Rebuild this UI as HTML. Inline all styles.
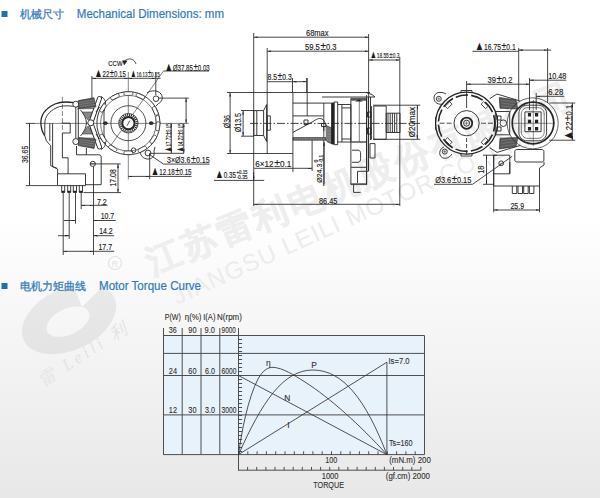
<!DOCTYPE html>
<html><head><meta charset="utf-8">
<style>
html,body{margin:0;padding:0;width:600px;height:498px;overflow:hidden;}
body{background:linear-gradient(to bottom,#ffffff 0px,#ffffff 215px,#e8e8e8 498px);font-family:"Liberation Sans",sans-serif;}
svg{position:absolute;left:0;top:0;}
</style></head><body>
<svg width="600" height="498" viewBox="0 0 600 498" font-family="Liberation Sans, sans-serif">
<!-- WATERMARK -->
<g id="wm">
<g opacity="0.06" fill="#000">
<path fill-rule="evenodd" transform="rotate(-25 69 319)" d="M19 319A50 31 0 1 0 119 319A50 31 0 1 0 19 319Z M44 321A23 13 0 1 0 90 321A23 13 0 1 0 44 321Z"/>
</g>
<path d="M73 284L82 307L105 284Z" fill="#f9f9f9"/>
<circle cx="115" cy="263" r="6.5" fill="none" stroke="#e2e2e2" stroke-width="1.1"/>
<text x="111.8" y="266.6" font-size="9" fill="#e2e2e2">R</text>
<text transform="translate(43 387) rotate(-33)" font-size="17" font-style="italic" font-family="Liberation Serif, serif" fill="#e4e4e4" letter-spacing="3.5">雷 Leili  利</text>
<text transform="translate(152.4 274.6) rotate(-22)" font-size="35" font-weight="bold" fill="#eeeeee" stroke="#eeeeee" stroke-width="0.6" letter-spacing="3.1">江苏雷利电机股份有限公司</text>
<text transform="translate(177 305) rotate(-24.4)" font-size="24" fill="#ececec" letter-spacing="1.2">JIANGSU LEILI MOTOR CO.,LTD</text>
</g>
<!-- HEADERS -->
<g id="hdr">
<rect x="1.5" y="11" width="6" height="6" fill="#1f6fb6"/>
<text x="20" y="18.2" font-size="11.2" fill="#3a7dbf" stroke="#3a7dbf" stroke-width="0.3" textLength="44" lengthAdjust="spacingAndGlyphs">机械尺寸</text>
<text x="76.8" y="17.8" font-size="12" fill="#3479be" stroke="#3479be" stroke-width="0.2" textLength="147.2" lengthAdjust="spacingAndGlyphs">Mechanical Dimensions: mm</text>
<rect x="1.5" y="283" width="6" height="6" fill="#1f6fb6"/>
<text x="20" y="290.2" font-size="11.2" fill="#3a7dbf" stroke="#3a7dbf" stroke-width="0.3" textLength="66" lengthAdjust="spacingAndGlyphs">电机力矩曲线</text>
<text x="99" y="289.5" font-size="12" fill="#3479be" stroke="#3479be" stroke-width="0.2" textLength="102" lengthAdjust="spacingAndGlyphs">Motor Torque Curve</text>
</g>
<!-- LEFT VIEW -->
<defs>
<marker id="ar" viewBox="0 0 10 4" refX="10" refY="2" markerWidth="4" markerHeight="1.6" orient="auto-start-reverse" markerUnits="userSpaceOnUse"><path d="M0 0L10 2L0 4z" fill="#222"/></marker>
</defs>
<g id="left" fill="none" stroke="#262626" stroke-width="0.9">
<!-- center lines -->
<g stroke-width="0.6" stroke="#333">
<path d="M35 123.4H188.8"/>
<path d="M128.3 72V179.5"/>
<path d="M163.5 71L109 148"/>
<path d="M62.4 97V132" stroke-dasharray="5 2"/>
</g>
<!-- housing arc -->
<path d="M74 102.6C66 101.5 60 101.8 55 104C45 108.5 40.5 116 40.9 124C41.2 129 42.5 132.5 44.8 135.8" stroke-width="1.3"/>
<path d="M73.5 106.3C66 105.3 60 105.8 56 108C49 111.5 44.8 117 44.8 123.2V135"/>
<!-- outer stepped outline -->
<path d="M44.8 135.8L46.4 140.9L50.7 145.7V165.6L54.3 167.4L57.6 169V173.8"/>
<path d="M49.8 123.2V141M52.6 123.2V166.8L56.7 168"/>
<path d="M61.7 123.2H70.2V133H62.4V157.8H68.1V173.8"/>
<!-- connector base + pins -->
<path d="M57.5 173.8H85.5V185.6H57.5Z"/>
<path d="M86.4 154.8H99C100.3 154.8 101.2 155.7 101.2 157V184.7H85.5"/>
<path d="M76.5 146V154.8H86.4M86.4 148V154.8"/>
<circle cx="92.8" cy="163.9" r="2.6"/>
<path d="M90.8 163.9H94.8" stroke-width="0.5"/>
<path d="M61.7 185.6V192.5H64.7V185.6M67.7 185.6V192.5H70.7V185.6M73.3 185.6V192.5H76.5V185.6M79.3 185.6V192.5H82.5V185.6"/>
<path d="M61.7 191.5H64.7M67.7 191.5H70.7M73.3 191.5H76.5M79.3 191.5H82.5" stroke-width="1.6"/>
<!-- stator frame -->
<path d="M75.8 104.7H78.3V139.7H75.8Z"/>
<path d="M80.5 110C84 114 86 118 86.5 123C86 128 84 132 80.5 136M95 110C92 114 90 118 89.5 123C90 128 92 132 95 136"/>
<path d="M82 112L93.5 112L88 120ZM82 134L93.5 134L88 126Z" fill="#888" stroke-width="0.5"/>
<path d="M77.5 108.8L96 108.5M77.5 138L96 138.3" stroke-width="0.7"/>
<path d="M99.5 98.5L90.8 122.8L99.5 147" stroke-width="5" stroke-linecap="round" stroke-linejoin="round"/>
<path d="M99.5 98.5L90.8 122.8L99.5 147" stroke="#fff" stroke-width="3.2" stroke-linecap="round" stroke-linejoin="round"/>
<circle cx="90.8" cy="122.8" r="3" fill="#fff"/>
<path d="M101 96.5C104 98 106 101 105.5 104L104 108V138L105.5 142C106 145 104 148 101 149.5"/>
<path d="M96 112L99.5 107M96 134L99.5 139"/>
<circle cx="75.8" cy="104.2" r="3" fill="#fff"/>
<circle cx="75.8" cy="141.6" r="3" fill="#fff"/>
<!-- coils -->
<g stroke="#333" fill="#5c5c5c" stroke-width="0.7">
<path d="M78.3 100.6L94 97.8L96 106.8L79 108.5Z"/>
<path d="M78.3 145.6L94 148.4L96 139.4L79 137.7Z"/>
</g>
<path d="M79 102.6L94.5 100M79.3 104.6L95 102.2M79.6 106.6L95.5 104.4M79 143.6L94.5 146.2M79.3 141.6L95 144M79.6 139.6L95.5 141.8" stroke="#999" stroke-width="0.45"/>
<g fill="#444" stroke="none">
<rect x="100.5" y="107.7" width="4.2" height="3.5"/><rect x="100.5" y="135.8" width="4.2" height="3.5"/>
</g>
<!-- motor front -->
<path d="M128.4 91.7A31.5 31.5 0 1 1 128.39000000000001 91.7" stroke-width="0.9"/>
<circle cx="128.4" cy="123.2" r="27.8" stroke-width="0.6"/>
<g stroke-width="0.7"><rect x="-4.5" y="-1.8" width="9" height="3.6" rx="1.5" fill="#fff" transform="translate(115.0 96.8) rotate(-27.0)"/><rect x="-4.5" y="-1.8" width="9" height="3.6" rx="1.5" fill="#fff" transform="translate(140.4 96.2) rotate(24.0)"/><rect x="-4.5" y="-1.8" width="9" height="3.6" rx="1.5" fill="#fff" transform="translate(155.3 110.9) rotate(65.4)"/><rect x="-4.5" y="-1.8" width="9" height="3.6" rx="1.5" fill="#fff" transform="translate(157.8 120.1) rotate(84.0)"/><rect x="-4.5" y="-1.8" width="9" height="3.6" rx="1.5" fill="#fff" transform="translate(157.8 126.3) rotate(96.0)"/><rect x="-4.5" y="-1.8" width="9" height="3.6" rx="1.5" fill="#fff" transform="translate(153.2 139.3) rotate(123.0)"/><rect x="-4.5" y="-1.8" width="9" height="3.6" rx="1.5" fill="#fff" transform="translate(142.3 149.3) rotate(152.0)"/><rect x="-4.5" y="-1.8" width="9" height="3.6" rx="1.5" fill="#fff" transform="translate(112.7 148.3) rotate(212.0)"/><rect x="-4.5" y="-1.8" width="9" height="3.6" rx="1.5" fill="#fff" transform="translate(103.0 108.0) rotate(-59.0)"/><rect x="-4.5" y="-1.8" width="9" height="3.6" rx="1.5" fill="#fff" transform="translate(103.0 138.4) rotate(239.0)"/><rect x="-4.5" y="-1.8" width="9" height="3.6" rx="1.5" fill="#fff" transform="translate(128.4 152.8) rotate(180.0)"/><rect x="-4.5" y="-1.8" width="9" height="3.6" rx="1.5" fill="#fff" transform="translate(128.4 93.6) rotate(0.0)"/></g>
<circle cx="128.4" cy="123.2" r="17.5" stroke-width="0.8"/>
<circle cx="128.4" cy="123.2" r="9.8" stroke-width="0.7" fill="#fff"/>
<circle cx="128.4" cy="123.2" r="8.4" stroke-width="2.4" stroke-dasharray="1.1 0.9"/>
<circle cx="128.4" cy="123.2" r="6.2" stroke-width="2.1"/>
<path d="M127 125.8L129.8 120.6" stroke-width="0.8"/>
<ellipse cx="105.4" cy="123.2" rx="1.9" ry="1.4" fill="#333"/>
<ellipse cx="151.2" cy="123.2" rx="1.9" ry="1.4" fill="#333"/>
<!-- ears -->
<path d="M147 93C151 90 158 90 161 94C163.5 97.5 162 102 158.5 103.5L156 106"/>
<circle cx="156" cy="98.7" r="2.8"/>
<path d="M140 152C141 157 145 159.5 149 159C153 158.5 155 155 154 151L155 147"/>
<circle cx="148" cy="153" r="2.9"/>
<circle cx="133.6" cy="150.2" r="2.3"/>
<!-- dimension lines -->
<g stroke="#262626" stroke-width="0.85">
<path d="M91.9 76V98M155.8 72V95"/>
<path d="M91.9 78.3H128.3" marker-start="url(#ar)" marker-end="url(#ar)"/>
<path d="M128.3 78.3H155.8" marker-start="url(#ar)" marker-end="url(#ar)"/>
<path d="M155.8 78.3H160.5"/>
<path d="M163.5 71H209"/>
<path d="M158 98.1H188.8M150.8 153.3H184"/>
<path d="M186.1 98.1V123.4" marker-start="url(#ar)" marker-end="url(#ar)"/>
<path d="M171.3 123.4V153.3" marker-start="url(#ar)" marker-end="url(#ar)"/>
<path d="M183.8 123.4V153.3" marker-start="url(#ar)" marker-end="url(#ar)"/>
<path d="M149 154.2L163.5 164.1H209.6"/>
<path d="M128.3 176.4H149.7" marker-start="url(#ar)" marker-end="url(#ar)"/>
<path d="M149.7 176.4H191.5M149.7 153V179.2"/>
<path d="M25.8 123.4H35M25.8 185.6H57.5"/>
<path d="M29.5 123.4V185.6" marker-start="url(#ar)" marker-end="url(#ar)"/>
<path d="M90 163.9H120.7M83.5 192.6H121"/>
<path d="M118 163.9V192.6" marker-start="url(#ar)" marker-end="url(#ar)"/>
<path d="M63.2 193V255M69.2 193V239M75.5 193V223.7M81.2 193V209M93.5 166.5V255"/>
<path d="M81.2 205.3H93.5" marker-start="url(#ar)" marker-end="url(#ar)"/>
<path d="M93.5 205.3H107.5"/>
<path d="M64 220.5H75.5" marker-end="url(#ar)"/>
<path d="M93.5 220.5H115.7" marker-start="url(#ar)"/>
<path d="M58 235.7H69.2" marker-end="url(#ar)"/>
<path d="M93.5 235.7H114.2" marker-start="url(#ar)"/>
<path d="M63.2 251.3H93.5" marker-start="url(#ar)" marker-end="url(#ar)"/>
<path d="M93.5 251.3H114.2"/>
<path d="M124 61.5C128 57.5 134 58 136 64" stroke-width="0.8"/>
</g>
<path d="M122.5 60.2L127.5 60.8L124 65.5Z" fill="#222" stroke="none"/>
</g>
<g fill="#1a1a1a" stroke="#1a1a1a" stroke-width="0.15">
<text x="108.3" y="65.8" font-size="7" textLength="14.2" lengthAdjust="spacingAndGlyphs">CCW</text>
<text x="94.2" y="76.7" font-size="8.8" textLength="31.6" lengthAdjust="spacingAndGlyphs"><tspan font-size="1.4em">▲</tspan>22<tspan dx="0.7" font-size="1.3em">±</tspan><tspan dx="0.7"></tspan>0.15</text>
<text x="130.3" y="76.7" font-size="8" textLength="29.4" lengthAdjust="spacingAndGlyphs"><tspan font-size="1.4em">▲</tspan>16.13<tspan dx="0.7" font-size="1.3em">±</tspan><tspan dx="0.7"></tspan>0.15</text>
<text x="164.4" y="71" font-size="8.8" textLength="45.3" lengthAdjust="spacingAndGlyphs"><tspan font-size="1.4em">▲</tspan>Ø37.85<tspan dx="0.7" font-size="1.3em">±</tspan><tspan dx="0.7"></tspan>0.03</text>
<text x="167.1" y="163.2" font-size="8.8" textLength="42.5" lengthAdjust="spacingAndGlyphs">3×Ø3.6<tspan dx="0.7" font-size="1.3em">±</tspan><tspan dx="0.7"></tspan>0.15</text>
<text x="150.8" y="175" font-size="8.8" textLength="40.7" lengthAdjust="spacingAndGlyphs"><tspan font-size="1.4em">▲</tspan>12.18<tspan dx="0.7" font-size="1.3em">±</tspan><tspan dx="0.7"></tspan>0.15</text>
<text transform="translate(170.6 152.4) rotate(-90)" font-size="7.6" textLength="29" lengthAdjust="spacingAndGlyphs"><tspan font-size="1.4em">▲</tspan>17.72<tspan dx="0.7" font-size="1.3em">±</tspan><tspan dx="0.7"></tspan>0.15</text>
<text transform="translate(183 152.4) rotate(-90)" font-size="7.6" textLength="29" lengthAdjust="spacingAndGlyphs"><tspan font-size="1.4em">▲</tspan>14.22<tspan dx="0.7" font-size="1.3em">±</tspan><tspan dx="0.7"></tspan>0.15</text>
<text transform="translate(28.4 163) rotate(-90)" font-size="8.8" textLength="17.2" lengthAdjust="spacingAndGlyphs">36.65</text>
<text transform="translate(116.4 186.5) rotate(-90)" font-size="8.8" textLength="17.2" lengthAdjust="spacingAndGlyphs">17.08</text>
<text x="97" y="204.5" font-size="8.8" textLength="9.7" lengthAdjust="spacingAndGlyphs">7.2</text>
<text x="100.7" y="219.2" font-size="8.8" textLength="13.5" lengthAdjust="spacingAndGlyphs">10.7</text>
<text x="99.2" y="234.2" font-size="8.8" textLength="13.5" lengthAdjust="spacingAndGlyphs">14.2</text>
<text x="98.5" y="249.8" font-size="8.8" textLength="13.5" lengthAdjust="spacingAndGlyphs">17.7</text>
</g>
<!-- MID VIEW -->
<g id="mid" fill="none" stroke="#262626" stroke-width="0.9">
<g stroke="#262626" stroke-width="0.85">
<!-- extension lines -->
<path d="M253.7 33V206M267.2 48V153.5M368.6 34V171M399.8 57V206M292.9 92.5V172M307.2 78V116M292.5 78V92.5M306.7 78V92.5M323.8 103V186M312.1 140V171"/>
<path d="M227 92.5H370M227 153.5H292.9M241 110.5H254M241 136.2H254M373 105.2H420.3M373 139.3H420.3"/>
<path d="M253.7 37.2H368.6" marker-start="url(#ar)" marker-end="url(#ar)"/>
<path d="M267.2 51.2H368.6" marker-start="url(#ar)" marker-end="url(#ar)"/>
<path d="M368.6 60H399.6" marker-start="url(#ar)" marker-end="url(#ar)"/>
<path d="M267.2 81.7H292.5" />
<path d="M292.5 81.7H306.7" marker-start="url(#ar)" marker-end="url(#ar)"/>
<path d="M230.1 92.5V153.5" marker-start="url(#ar)" marker-end="url(#ar)"/>
<path d="M243.1 110.5V136.2" marker-start="url(#ar)" marker-end="url(#ar)"/>
<path d="M417.3 105.2V139.3" marker-start="url(#ar)" marker-end="url(#ar)"/>
<path d="M254.2 168.3H312.1" marker-end="url(#ar)"/>
<path d="M214 180.4H264.2"/>
<path d="M253.7 172V180.4" marker-end="url(#ar)"/>
<path d="M324.1 142V184.3" marker-start="url(#ar)"/>
<path d="M253.7 204.3H399.8" marker-start="url(#ar)" marker-end="url(#ar)"/>
<path d="M250 123.4H420" stroke-dasharray="8 2 1.5 2"/>
</g>
<!-- end cap -->
<path d="M253.8 110.6H263.6V135.5H253.8ZM256.8 110.6V135.5"/>
<path d="M263.6 110.6L266.6 104.6V141.5L263.6 135.5"/>
<path d="M267.3 115.9H270.3V130.2H267.3Z"/>
<!-- motor body -->
<path d="M292.9 103.1H331.5M292.9 115.9H323.8"/>
<path d="M292.9 132.4L313 121.5C316 119.5 319 117.5 322 119C324 120 325 122 325.5 124.5"/>
<path d="M304 120H308V124.5H304Z"/>
<path d="M293 137.6H326V140.2H293Z" fill="#666" stroke-width="0.6"/>
<path d="M294 138.9H325" stroke="#ccc" stroke-width="0.6" stroke-dasharray="0.8 0.8"/>
<path d="M325.5 125C327 126 330 127 331.6 128V143.5C329 143 327 142 326 140.2" fill="#777" stroke-width="0.6"/>
<path d="M326.5 131H331M326.5 134H331M326.5 137H331M327 140H331" stroke="#bbb" stroke-width="0.5" stroke-dasharray="0.8 0.8"/>
<path d="M323.8 126V131M321.5 126.5H326V123.5H321.5Z"/>
<path d="M331.6 103H334V144H331.6Z" fill="#222"/>
<path d="M334 102H337.7V144.7H334Z"/>
<!-- flange -->
<path d="M337.7 104.5H350.9V142H337.7M341.9 104.9V142M341.9 107.9H350.9M341.9 139H350.9"/>
<!-- gear housing -->
<path d="M322 97H375M366 92.5L372 94.5L375 97"/>
<path d="M350.9 98.3H366.6V184.6M350.9 98.3V184.6H366.6"/>
<path d="M350.9 99.8H366.6" stroke-width="1.8" stroke="#555"/>
<path d="M355 101.5L359 99.5L363 101.5Z" fill="#222" stroke="none"/>
<path d="M359.3 100V142" stroke-width="0.6"/>
<path d="M350.9 142H366.6M350.9 167.4H366.6M350.9 184H366.6" stroke-width="1.4" stroke="#555"/>
<path d="M352 150.2H358C360 150.2 360.6 152 360.6 154V158.5C360.6 160.5 360 162.3 358 162.3H352"/>
<path d="M357.5 183V171.3H368.4V97"/>
<path d="M353.6 184.6V192.4H360.6" stroke-width="0.9"/>
<path d="M366.6 95V184.6M370.5 97V140M370 143.6H375V158H370Z"/>
<path d="M367.5 112H371V117H367.5ZM367.5 128H371V134H367.5Z"/>
<!-- output gear -->
<path d="M371.4 106V139.5M373.8 106H386.2V139.3H373.8Z"/>
<path d="M386.2 113.2H400V132.5H386.2Z"/>
<path d="M388 113.2V132.5M390.2 113.2V132.5M392.4 113.2V132.5M394.6 113.2V132.5M396.8 113.2V132.5" stroke-width="0.9"/>
</g>
<g fill="#1a1a1a" stroke="#1a1a1a" stroke-width="0.15">
<text x="306" y="36.2" font-size="8.6" textLength="22.5" lengthAdjust="spacingAndGlyphs">68max</text>
<text x="305" y="50.2" font-size="8.8" textLength="31.5" lengthAdjust="spacingAndGlyphs">59.5<tspan dx="0.7" font-size="1.3em">±</tspan><tspan dx="0.7"></tspan>0.3</text>
<text x="370" y="58.2" font-size="7.6" textLength="29.4" lengthAdjust="spacingAndGlyphs"><tspan font-size="1.4em">▲</tspan>18.55<tspan dx="0.7" font-size="1.3em">±</tspan><tspan dx="0.7"></tspan>0.3</text>
<text x="267.5" y="80.2" font-size="8.4" textLength="24.2" lengthAdjust="spacingAndGlyphs">8.5<tspan dx="0.7" font-size="1.3em">±</tspan><tspan dx="0.7"></tspan>0.3</text>
<text transform="translate(229.6 128.2) rotate(-90)" font-size="8.8" textLength="13.2" lengthAdjust="spacingAndGlyphs">Ø36</text>
<text transform="translate(240.8 132.2) rotate(-90)" font-size="8.8" textLength="19.2" lengthAdjust="spacingAndGlyphs">Ø13.5</text>
<text transform="translate(415.2 137.3) rotate(-90)" font-size="8.4" textLength="30.3" lengthAdjust="spacingAndGlyphs">Ø20max</text>
<text transform="translate(321.6 182.7) rotate(-90)" font-size="7.6" textLength="19.1" lengthAdjust="spacingAndGlyphs">Ø24.3</text>
<text transform="translate(318.3 162.6) rotate(-90)" font-size="4.6" textLength="3" lengthAdjust="spacingAndGlyphs">0</text>
<text transform="translate(322.8 163) rotate(-90)" font-size="4.6" textLength="8" lengthAdjust="spacingAndGlyphs">-0.1</text>
<text x="255.2" y="167.2" font-size="8.8" textLength="36" lengthAdjust="spacingAndGlyphs">6×12<tspan dx="0.7" font-size="1.3em">±</tspan><tspan dx="0.7"></tspan>0.1</text>
<text x="215" y="178.4" font-size="8.8" textLength="21" lengthAdjust="spacingAndGlyphs"><tspan font-size="1.4em">▲</tspan>0.35</text>
<text x="236.5" y="173.5" font-size="4.5" textLength="11" lengthAdjust="spacingAndGlyphs">+0.15</text>
<text x="236.5" y="178.5" font-size="4.5" textLength="11" lengthAdjust="spacingAndGlyphs">-0.35</text>
<text x="319" y="203.5" font-size="8.6" textLength="18.3" lengthAdjust="spacingAndGlyphs">86.45</text>
</g>
<!-- RIGHT VIEW -->
<g id="right" fill="none" stroke="#262626" stroke-width="0.9">
<g stroke="#262626" stroke-width="0.85">
<path d="M466.6 81V108"/>
<path d="M466.6 138V156" stroke-dasharray="4 2"/>
<path d="M439.6 123.2H452M481 123.2H496" stroke-dasharray="5 2"/>
<path d="M518.7 48V100M547.6 48V103M529.5 78V110M536.2 93V110"/>
<path d="M472.5 51.3H518.7"/>
<path d="M518.7 50.1H547.6" marker-start="url(#ar)" marker-end="url(#ar)"/>
<path d="M547.6 50.1H551.2"/>
<path d="M466.6 84.2H529.5" marker-start="url(#ar)" marker-end="url(#ar)"/>
<path d="M529.5 80.2H566.3" marker-start="url(#ar)"/>
<path d="M536.2 96.3H564.3" marker-start="url(#ar)"/>
<path d="M549.2 103H575.3M549.2 140.2H575.3"/>
<path d="M572.3 103V140.2" marker-start="url(#ar)" marker-end="url(#ar)"/>
<path d="M483 155.2H497M483 184.3H493.5"/>
<path d="M486.5 155.2V184.3" marker-start="url(#ar)" marker-end="url(#ar)"/>
<path d="M434 184.3H472.5L512.2 156.3"/>
<path d="M493.7 155V212.3M539.5 186V212.3"/>
<path d="M493.7 210H539.5" marker-start="url(#ar)" marker-end="url(#ar)"/>
</g>
<!-- motor rear -->
<circle cx="466.6" cy="123.2" r="31" stroke-width="1.3"/>
<circle cx="466.6" cy="123.2" r="28.2" stroke-width="1.6" stroke-dasharray="12.5 3.2" stroke-dashoffset="4"/>
<g stroke-width="0.8" fill="#fff"><rect x="-3.2" y="-1.7" width="6.4" height="3.4" transform="translate(448.6 105.2) rotate(-45)"/><rect x="-3.2" y="-1.7" width="6.4" height="3.4" transform="translate(484.6 105.2) rotate(45)"/><rect x="-3.2" y="-1.7" width="6.4" height="3.4" transform="translate(484.6 141.2) rotate(135)"/><rect x="-3.2" y="-1.7" width="6.4" height="3.4" transform="translate(448.6 141.2) rotate(225)"/></g>
<circle cx="466.6" cy="123.2" r="12.6"/>
<circle cx="466.6" cy="123.2" r="5.6" stroke-width="1.8"/>
<circle cx="466.6" cy="123.2" r="3"/>
<path d="M464.6 123.2H468.6M466.6 121.2V125.2" stroke-width="0.5"/>
<path d="M461 92.5V90.5H472V92.5M461 154V156H472V154"/>
<path d="M435.5 117V129.5M497.5 117V129.5"/>
<!-- ears -->
<path d="M446 94C441 91 434 92 434 98C434 103 439 105 443 104"/>
<circle cx="438.8" cy="98.8" r="2.5"/>
<path d="M437.3 98.8H440.3M438.8 97.3V100.3" stroke-width="0.5"/>
<path d="M452 154C449 159 442 160 440 155C439 151 441 148 444 147"/>
<circle cx="444.8" cy="151.6" r="2.5"/>
<path d="M443.3 151.6H446.3M444.8 150.1V153.1" stroke-width="0.5"/>
<!-- stator frame -->
<path d="M489.6 98.7L497 94L520 101M489.6 147.7L497 152.4L520 145.5"/>
<path d="M495.3 111.5V134.8M509.7 111.5V134.8M495.3 111.5H509.7M495.3 134.8H509.7"/>
<circle cx="503.3" cy="123.2" r="3.3"/>
<path d="M497 116H501V120H497ZM497 127H501V131H497Z"/>
<g fill="#5a5a5a" stroke="#333" stroke-width="0.7">
<path d="M499.3 97.5L516 100L517.8 109L500 108.3Z"/>
<path d="M499.3 149L516 146.5L517.8 137.5L500 138.2Z"/>
</g>
<path d="M501 100L515 102M501 103L516 105M501 106L517 107.5M501 146.5L515 144.5M501 143.5L516 141.5M501 140.5L517 139" stroke="#888" stroke-width="0.5"/>
<!-- connector -->
<circle cx="532.7" cy="123.3" r="25.5" stroke-width="0.7"/>
<circle cx="533" cy="123" r="20.8" stroke-width="1.7"/>
<path d="M527 105.2H538.6C543 105.2 546.6 109 546.6 113.2V132.8C546.6 137 543 140.8 538.6 140.8H527C522.6 140.8 518.9 137 518.9 132.8V113.2C518.9 109 522.6 105.2 527 105.2Z"/>
<path d="M528 107.6H537.6C541.5 107.6 544.2 110.5 544.2 114V132C544.2 135.5 541.5 138.4 537.6 138.4H528C524 138.4 521.3 135.5 521.3 132V114C521.3 110.5 524 107.6 528 107.6Z" stroke-width="0.6"/>
<path d="M524.9 111.9H541.1V131.7H524.9Z"/>
<g fill="#222" stroke="none">
<rect x="527.9" y="113" width="3.2" height="3.5"/><rect x="535" y="113" width="3.2" height="3.5"/>
<rect x="527.9" y="119.7" width="3.2" height="3.5"/><rect x="535" y="119.7" width="3.2" height="3.5"/>
<rect x="527.9" y="127" width="3.2" height="3.5"/><rect x="535" y="127" width="3.2" height="3.5"/>
</g>
<path d="M512 123.3H555M533.3 100V146" stroke-width="0.5"/>
<!-- lower body -->
<path d="M514.8 151.5C514.8 150.3 515.7 149.5 516.9 149.5H541.9C543.1 149.5 543.9 150.3 543.9 151.5V160C543.9 161.2 543.1 162 541.9 162H516.9C515.7 162 514.8 161.2 514.8 160Z"/>
<path d="M493.7 155.2H509.8V173.8H493.7ZM509.8 162V173.8"/>
<circle cx="501.2" cy="163.3" r="2.4"/>
<path d="M499.7 163.3H502.7" stroke-width="0.5"/>
<path d="M493.7 173.8V186H539.5V168L544 165V162"/>
<path d="M512.3 186V193.5H516.8V186M518 186V193.5H522.5V186M523.7 186V193.5H528.2V186M529.4 186V193.5H533.9V186"/>
</g>
<g fill="#1a1a1a" stroke="#1a1a1a" stroke-width="0.15">
<text x="474.7" y="49.7" font-size="8.8" textLength="41" lengthAdjust="spacingAndGlyphs"><tspan font-size="1.4em">▲</tspan>16.75<tspan dx="0.7" font-size="1.3em">±</tspan><tspan dx="0.7"></tspan>0.1</text>
<text x="487.5" y="83" font-size="8.8" textLength="25" lengthAdjust="spacingAndGlyphs">39<tspan dx="0.7" font-size="1.3em">±</tspan><tspan dx="0.7"></tspan>0.2</text>
<text x="548.2" y="79.2" font-size="8.8" textLength="18" lengthAdjust="spacingAndGlyphs">10.48</text>
<text x="548.2" y="95.3" font-size="8.8" textLength="15" lengthAdjust="spacingAndGlyphs">6.28</text>
<text transform="translate(571.6 140.8) rotate(-90)" font-size="9" textLength="36" lengthAdjust="spacingAndGlyphs"><tspan font-size="1.4em">▲</tspan>22<tspan dx="0.7" font-size="1.3em">±</tspan><tspan dx="0.7"></tspan>0.1</text>
<text transform="translate(484 173.8) rotate(-90)" font-size="8.8" textLength="8.1" lengthAdjust="spacingAndGlyphs">18</text>
<text x="435.2" y="183.2" font-size="8.8" textLength="36.1" lengthAdjust="spacingAndGlyphs">Ø3.6<tspan dx="0.7" font-size="1.3em">±</tspan><tspan dx="0.7"></tspan>0.15</text>
<text x="510.5" y="208.8" font-size="8.8" textLength="13.5" lengthAdjust="spacingAndGlyphs">25.9</text>
</g>
<!-- CHART -->
<g id="chart" fill="none">
<rect x="163.5" y="335.5" width="261" height="119.1" fill="#e8f2fb" stroke="none"/>
<g stroke="#4e4e4e" stroke-width="1">
<path d="M163.5 335.5H424.5V454.6H163.5Z"/>
<path d="M163.5 353.4H424.5M163.5 375.5H424.5M163.5 414.9H424.5"/>
<path d="M163.5 328V454.6M182.2 328V454.6M201 328V454.6M219.8 328V454.6M238.5 328V470.7"/>
<path d="M238.5 470.2H420.8"/>
</g>
<g stroke="#3e3e3e" stroke-width="0.9">
<path d="M238.5 371.5h3.6M238.5 367.5h3.6M238.5 363.5h3.6M238.5 359.5h3.6M238.5 355.5h3.6M238.5 351.5h3.6M238.5 347.5h3.6M238.5 343.5h3.6M238.5 339.5h3.6M238.5 379.5h3.6M238.5 383.5h3.6M238.5 387.5h3.6M238.5 391.5h3.6M238.5 395.5h3.6M238.5 399.5h3.6M238.5 403.5h3.6M238.5 407.5h3.6M238.5 411.5h3.6M238.5 415.5h3.6M238.5 419.5h3.6M238.5 423.5h3.6M238.5 427.5h3.6M238.5 431.5h3.6M238.5 435.5h3.6M238.5 439.5h3.6M238.5 443.5h3.6M238.5 447.5h3.6M238.5 451.5h3.6"/>
<path d="M247.8 454.6v-3.3M257.1 454.6v-3.3M266.4 454.6v-3.3M275.7 454.6v-3.3M285.0 454.6v-3.3M294.3 454.6v-3.3M303.6 454.6v-3.3M312.9 454.6v-3.3M322.2 454.6v-3.3M331.5 454.6v-3.3M340.8 454.6v-3.3M350.1 454.6v-3.3M359.4 454.6v-3.3M368.7 454.6v-3.3M378.0 454.6v-3.3M387.3 454.6v-3.3M396.6 454.6v-3.3M405.9 454.6v-3.3M415.2 454.6v-3.3"/>
<path d="M247.6 470.2v-3.3M256.7 470.2v-3.3M265.9 470.2v-3.3M275.0 470.2v-3.3M284.1 470.2v-3.3M293.2 470.2v-3.3M302.3 470.2v-3.3M311.5 470.2v-3.3M320.6 470.2v-3.3M329.7 470.2v-3.3M338.8 470.2v-3.3M347.9 470.2v-3.3M357.1 470.2v-3.3M366.2 470.2v-3.3M375.3 470.2v-3.3M384.4 470.2v-3.3M393.5 470.2v-3.3M402.7 470.2v-3.3M411.8 470.2v-3.3M420.9 470.2v-3.3"/>
</g>
<g stroke="#333" stroke-width="0.85">
<path d="M238.5 375.5L386.9 454.6"/>
<path d="M238.5 454.6L386.9 362.2V454.6"/>
<path d="M238.5 454.6C241.5 432 248 398 258 379C263 370 268 367.3 273 367.3C283 368 293 374.5 305 382C330 398 360 425 386.9 454.6"/>
<path d="M238.5 454.6C262 402 283 370 313 370C343 370 366 400 386.9 454.6"/>
</g>
<g fill="#2e2e2e" stroke="#2e2e2e" stroke-width="0.1" font-size="8.4">
<text x="164.7" y="319.6" textLength="16.1" lengthAdjust="spacingAndGlyphs">P(W)</text>
<text x="184.8" y="319.6" textLength="16.6" lengthAdjust="spacingAndGlyphs">η(%)</text>
<text x="203.2" y="319.6" textLength="12.3" lengthAdjust="spacingAndGlyphs">I(A)</text>
<text x="217.1" y="319.6" textLength="24.8" lengthAdjust="spacingAndGlyphs">N(rpm)</text>
<text x="168.8" y="332.6" textLength="7.9" lengthAdjust="spacingAndGlyphs">36</text>
<text x="188.3" y="332.6" textLength="8.2" lengthAdjust="spacingAndGlyphs">90</text>
<text x="204.6" y="332.6" textLength="10.4" lengthAdjust="spacingAndGlyphs">9.0</text>
<text x="221.6" y="332.6" textLength="14.2" lengthAdjust="spacingAndGlyphs">9000</text>
<text x="168.8" y="373.8" textLength="8.2" lengthAdjust="spacingAndGlyphs">24</text>
<text x="188.3" y="373.8" textLength="8.2" lengthAdjust="spacingAndGlyphs">60</text>
<text x="205" y="373.8" textLength="10" lengthAdjust="spacingAndGlyphs">6.0</text>
<text x="221.6" y="373.8" textLength="14.9" lengthAdjust="spacingAndGlyphs">6000</text>
<text x="168.8" y="412.9" textLength="8.2" lengthAdjust="spacingAndGlyphs">12</text>
<text x="188.3" y="412.9" textLength="8.2" lengthAdjust="spacingAndGlyphs">30</text>
<text x="205" y="412.9" textLength="10" lengthAdjust="spacingAndGlyphs">3.0</text>
<text x="221.6" y="412.9" textLength="14.9" lengthAdjust="spacingAndGlyphs">3000</text>
<text x="266" y="365.5">η</text>
<text x="311.3" y="367.6">P</text>
<text x="284.3" y="401.2">N</text>
<text x="287.3" y="428.2">I</text>
<text x="388.5" y="364.3" textLength="21" lengthAdjust="spacingAndGlyphs">Is=7.0</text>
<text x="389" y="445.9" textLength="23.5" lengthAdjust="spacingAndGlyphs">Ts=160</text>
<text x="325.2" y="463" textLength="12" lengthAdjust="spacingAndGlyphs">100</text>
<text x="389.2" y="463" textLength="41.6" lengthAdjust="spacingAndGlyphs">(mN.m) 200</text>
<text x="321.7" y="479.3" textLength="16.8" lengthAdjust="spacingAndGlyphs">1000</text>
<text x="385.8" y="479.3" textLength="44.2" lengthAdjust="spacingAndGlyphs">(gf.cm) 2000</text>
<text x="313.3" y="488.2" textLength="30.7" lengthAdjust="spacingAndGlyphs">TORQUE</text>
</g>
</g>
</svg>
</body></html>
